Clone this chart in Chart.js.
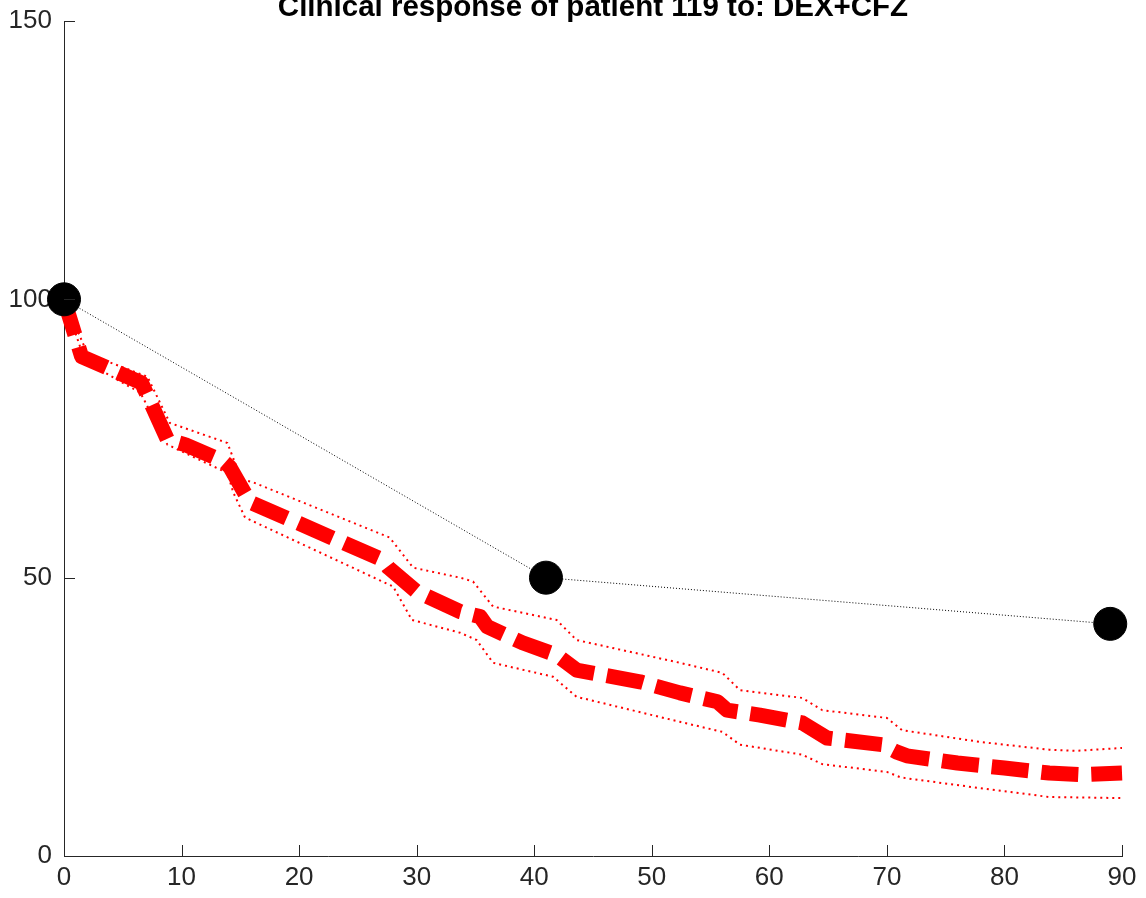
<!DOCTYPE html>
<html>
<head>
<meta charset="utf-8">
<script src="https://cdn.jsdelivr.net/npm/chart.js@4"></script>
<style>
  html, body { margin: 0; padding: 0; background: #fff; }
  #wrap { width: 1146px; height: 898px; }
</style>
</head>
<body>
<div id="wrap"><canvas id="myChart" width="1146" height="898"></canvas></div>
<script>
const TITLE = 'Clinical response of patient 119 to: DEX+CFZ';

// model prediction (mean), days vs response
const predDays = [0, 1.5, 6.6, 8.8, 10.3, 13.5, 14.1, 15.8, 27.1, 27.6, 30, 33.7, 35.4, 36, 39, 41.9, 43.6, 49, 52.4, 55.6, 56.4, 59.2, 62.8, 64.9, 69.6, 70.8, 71.7, 76, 80, 83.8, 86.6, 90];
const predMean = [100, 89.7, 85.0, 74.8, 73.9, 71.0, 69.9, 63.6, 53.2, 51.8, 47.5, 43.9, 43.0, 41.2, 38.3, 36.1, 33.4, 31.3, 29.3, 27.7, 26.2, 25.3, 23.9, 21.2, 20.0, 18.7, 18.0, 16.7, 15.8, 14.9, 14.6, 14.9];

// upper bound
const upperDays = [0, 2.0, 7.1, 9.0, 13.9, 15.1, 16.0, 27.7, 29.7, 33.7, 34.8, 36.5, 41.9, 43.6, 52.4, 56, 57.5, 62.8, 64.5, 70, 71.3, 77.9, 83.8, 86.1, 90];
const upperVals = [100, 90.2, 86.1, 77.8, 74.2, 67.6, 67.2, 57.2, 51.8, 50.0, 49.3, 44.8, 42.4, 38.8, 34.7, 32.9, 29.8, 28.4, 26.2, 24.8, 22.6, 20.5, 19.1, 18.9, 19.4];

// lower bound
const lowerDays = [0, 1.8, 2.6, 6.5, 8.8, 13.9, 14.4, 15.4, 28, 29.6, 33.7, 35.1, 36.5, 41.6, 43.6, 52.4, 56, 57.5, 62.8, 64.5, 70, 71.2, 77.9, 83.8, 90];
const lowerVals = [100, 88.8, 87.9, 83.2, 73.9, 68.8, 65.3, 60.8, 48.4, 42.4, 40.1, 38.8, 34.7, 32.2, 28.6, 24.1, 22.3, 20.0, 18.2, 16.5, 15.1, 14.1, 12.2, 10.6, 10.4];

// observed clinical response
const obsDays = [0, 41, 89];
const obsVals = [100, 50, 41.7];

const xTicks = [0, 10, 20, 30, 40, 50, 60, 70, 80, 90];
const yTicks = [0, 50, 100, 150];

const AXIS_COLOR = '#262626';
const FONT = '"Liberation Sans", Arial, sans-serif';

const toPts = (xs, ys) => xs.map((x, i) => ({ x: x, y: ys[i] }));

// title drawn partly above the canvas top, like the reference
const titlePlugin = {
    id: 'cutTitle',
    afterDraw: (chart) => {
        const { ctx, chartArea } = chart;
        ctx.save();
        ctx.fillStyle = '#000';
        ctx.font = 'bold 29.5px ' + FONT;
        ctx.textAlign = 'center';
        ctx.textBaseline = 'alphabetic';
        ctx.fillText(TITLE, (chartArea.left + chartArea.right) / 2, 16);
        ctx.restore();
    }
};

// ticks pointing into the plot area
const innerTicks = {
    id: 'innerTicks',
    afterDraw: (chart) => {
        const { ctx, chartArea, scales } = chart;
        ctx.save();
        ctx.strokeStyle = AXIS_COLOR;
        ctx.lineWidth = 1;
        ctx.beginPath();
        xTicks.forEach(v => {
            const px = Math.round(scales.x.getPixelForValue(v)) + 0.5;
            ctx.moveTo(px, chartArea.bottom);
            ctx.lineTo(px, chartArea.bottom - 11);
        });
        yTicks.forEach(v => {
            const py = Math.round(scales.y.getPixelForValue(v)) + 0.5;
            ctx.moveTo(chartArea.left, py);
            ctx.lineTo(chartArea.left + 11, py);
        });
        ctx.stroke();
        ctx.restore();
    }
};

const ctx = document.getElementById('myChart').getContext('2d');
new Chart(ctx, {
    type: 'line',
    data: {
        datasets: [
            {
                label: 'Observed',
                data: toPts(obsDays, obsVals),
                borderColor: '#000',
                backgroundColor: '#000',
                borderWidth: 1,
                borderDash: [1, 2],
                pointRadius: 16.5,
                pointBorderWidth: 1,
                pointBackgroundColor: '#000',
                pointBorderColor: '#000',
                tension: 0,
                clip: false
            },
            {
                label: 'Prediction',
                data: toPts(predDays, predMean),
                borderColor: '#ff0000',
                borderWidth: 15,
                borderDash: [37, 13],
                borderCapStyle: 'butt',
                borderJoinStyle: 'round',
                pointRadius: 0,
                tension: 0,
                clip: false
            },
            {
                label: 'Upper',
                data: toPts(upperDays, upperVals),
                borderColor: '#ff0000',
                borderWidth: 2,
                borderDash: [2, 4],
                pointRadius: 0,
                tension: 0,
                clip: false
            },
            {
                label: 'Lower',
                data: toPts(lowerDays, lowerVals),
                borderColor: '#ff0000',
                borderWidth: 2,
                borderDash: [2, 4],
                pointRadius: 0,
                tension: 0,
                clip: false
            }
        ]
    },
    plugins: [titlePlugin, innerTicks],
    options: {
        responsive: false,
        animation: false,
        layout: {
            padding: { top: 21, right: 24, left: 0, bottom: 0 }
        },
        plugins: {
            legend: { display: false },
            tooltip: { enabled: false }
        },
        scales: {
            x: {
                type: 'linear',
                min: 0,
                max: 90,
                afterBuildTicks: (scale) => { scale.ticks = xTicks.map(v => ({ value: v })); },
                afterFit: (scale) => {
                    scale.height = 42;
                    scale.paddingLeft = 0;
                    scale.paddingRight = 0;
                },
                grid: { display: false, drawTicks: false },
                border: { display: true, color: AXIS_COLOR, width: 1 },
                ticks: {
                    color: AXIS_COLOR,
                    font: { family: FONT, size: 26 },
                    padding: 6,
                    maxRotation: 0
                }
            },
            y: {
                type: 'linear',
                min: 0,
                max: 150,
                afterBuildTicks: (scale) => { scale.ticks = yTicks.map(v => ({ value: v })); },
                afterFit: (scale) => {
                    scale.width = 64;
                    scale.paddingTop = 0;
                    scale.paddingBottom = 0;
                },
                grid: { display: false, drawTicks: false },
                border: { display: true, color: AXIS_COLOR, width: 1 },
                ticks: {
                    color: AXIS_COLOR,
                    font: { family: FONT, size: 26 },
                    padding: 12
                }
            }
        }
    }
});
</script>
</body>
</html>
